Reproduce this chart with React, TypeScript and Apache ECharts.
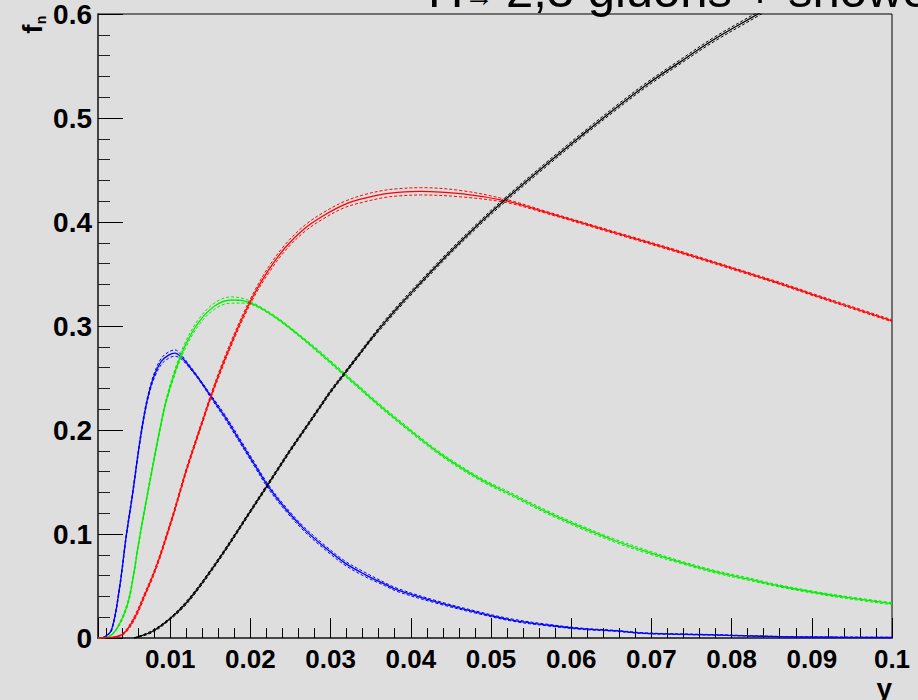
import React, { useEffect, useRef } from "react";
import * as echarts from "echarts";

// ---- data ----
const titleParts = ["H", "→", "2,3 gluons + shower"];
const yAxisTitle = "f";
const yAxisTitleSub = "n";
const xAxisTitle = "y";

const blueX = [0.001, 0.0018, 0.0027, 0.0037, 0.0045, 0.0053, 0.0062, 0.0069, 0.0075, 0.0081, 0.0089, 0.0098, 0.0106, 0.0114, 0.0122, 0.0135, 0.0151, 0.0168, 0.0185, 0.0205, 0.0222, 0.0243, 0.0268, 0.0293, 0.0318, 0.0343, 0.0367, 0.0384, 0.0435, 0.0486, 0.0528, 0.057, 0.0611, 0.0653, 0.0694, 0.0777, 0.086, 0.093, 0.1];
const blueY = [0, 0.001, 0.008, 0.049, 0.097, 0.138, 0.188, 0.22, 0.24, 0.254, 0.266, 0.272, 0.274, 0.27, 0.263, 0.25, 0.232, 0.213, 0.192, 0.167, 0.146, 0.125, 0.104, 0.087, 0.072, 0.061, 0.052, 0.046, 0.034, 0.024, 0.017, 0.0125, 0.009, 0.007, 0.0045, 0.003, 0.0013, 0.0008, 0.0005];
const blueErr = [0, 0, 0.001, 0.002, 0.002, 0.002, 0.002, 0.002, 0.002, 0.0025, 0.003, 0.003, 0.003, 0.002, 0.0015, 0.001, 0.0015, 0.002, 0.002, 0.002, 0.002, 0.002, 0.002, 0.002, 0.002, 0.002, 0.0015, 0.0015, 0.0012, 0.001, 0.001, 0.0008, 0.0006, 0.0005, 0.0004, 0.0003, 0.0002, 0.0002, 0.0002];

const greenX = [0.001, 0.00225, 0.0035, 0.0047, 0.0054, 0.006, 0.0068, 0.0077, 0.0087, 0.0095, 0.0106, 0.0118, 0.0135, 0.0155, 0.0176, 0.0193, 0.0209, 0.0234, 0.0259, 0.0284, 0.0309, 0.0334, 0.0359, 0.0384, 0.0435, 0.0486, 0.0528, 0.057, 0.0611, 0.0653, 0.0694, 0.0736, 0.0778, 0.0819, 0.086, 0.0902, 0.0943, 0.1];
const greenY = [0, 0.001, 0.011, 0.033, 0.059, 0.088, 0.123, 0.16, 0.2, 0.228, 0.256, 0.28, 0.303, 0.319, 0.325, 0.324, 0.319, 0.307, 0.292, 0.276, 0.259, 0.242, 0.225, 0.209, 0.178, 0.153, 0.137, 0.121, 0.107, 0.094, 0.083, 0.073, 0.064, 0.057, 0.05, 0.044, 0.039, 0.033];
const greenErr = [0, 0, 0.001, 0.002, 0.002, 0.002, 0.002, 0.002, 0.002, 0.002, 0.0025, 0.003, 0.003, 0.003, 0.003, 0.002, 0.001, 0.001, 0.001, 0.0015, 0.0015, 0.0015, 0.0015, 0.0015, 0.0015, 0.0015, 0.0015, 0.0015, 0.0015, 0.0015, 0.0015, 0.0012, 0.0012, 0.0012, 0.001, 0.001, 0.001, 0.001];

const redX = [0.001, 0.0031, 0.0043, 0.0056, 0.0068, 0.0079, 0.0087, 0.0095, 0.0104, 0.0112, 0.012, 0.0131, 0.0141, 0.0151, 0.0164, 0.0176, 0.0189, 0.0205, 0.0222, 0.0243, 0.0268, 0.0293, 0.0318, 0.0343, 0.0367, 0.0384, 0.0412, 0.0465, 0.052, 0.057, 0.0653, 0.0736, 0.0819, 0.086, 0.0902, 0.1];
const redY = [0, 0.001, 0.005, 0.02, 0.041, 0.061, 0.078, 0.097, 0.119, 0.14, 0.161, 0.187, 0.21, 0.233, 0.26, 0.283, 0.306, 0.331, 0.353, 0.375, 0.394, 0.407, 0.417, 0.423, 0.427, 0.4285, 0.4295, 0.427, 0.42, 0.409, 0.39, 0.371, 0.351, 0.341, 0.33, 0.305];
const redErr = [0, 0, 0.001, 0.002, 0.002, 0.002, 0.002, 0.002, 0.002, 0.002, 0.002, 0.002, 0.002, 0.002, 0.0025, 0.0025, 0.0025, 0.0025, 0.003, 0.003, 0.003, 0.003, 0.003, 0.0035, 0.0035, 0.0035, 0.0035, 0.003, 0.0015, 0.001, 0.001, 0.001, 0.001, 0.001, 0.001, 0.001];

const blackX = [0.0055, 0.0077, 0.0099, 0.0118, 0.0135, 0.0151, 0.0168, 0.0185, 0.0201, 0.0218, 0.0234, 0.0251, 0.0268, 0.0284, 0.0301, 0.0318, 0.0334, 0.0351, 0.0367, 0.0384, 0.0403, 0.0445, 0.0486, 0.052, 0.057, 0.0611, 0.0653, 0.0694, 0.0736, 0.0777, 0.0835, 0.0845];
const blackY = [0, 0.006, 0.018, 0.032, 0.048, 0.065, 0.084, 0.104, 0.123, 0.143, 0.162, 0.182, 0.201, 0.219, 0.238, 0.255, 0.271, 0.288, 0.303, 0.318, 0.334, 0.368, 0.399, 0.423, 0.456, 0.482, 0.508, 0.532, 0.554, 0.575, 0.601, 0.606];
const blackErr = [0, 0.001, 0.001, 0.0015, 0.0015, 0.0015, 0.0015, 0.0015, 0.0015, 0.0015, 0.0015, 0.0015, 0.0015, 0.0015, 0.0015, 0.0015, 0.0015, 0.0015, 0.002, 0.002, 0.002, 0.002, 0.002, 0.002, 0.002, 0.002, 0.002, 0.002, 0.002, 0.002, 0.002, 0.002];

const xMin = 0.001;
const xMax = 0.1;
const yMin = 0;
const yMax = 0.6;
const yStep = 0.1;

// ---- styles ----
const BG = "#dedede";
const FONT = '"Liberation Sans", Arial, Helvetica, sans-serif';

function curveSeries(name: string, xs: number[], ys: number[], errs: number[], color: string) {
  const main = xs.map((x, i) => [x, ys[i]]);
  const up = xs.map((x, i) => [x, ys[i] + errs[i]]);
  const lo = xs.map((x, i) => [x, Math.max(0, ys[i] - errs[i])]);
  const base = {
    type: "line",
    showSymbol: false,
    symbol: "none",
    smooth: 0.35,
    clip: true,
    silent: true,
  };
  return [
    { ...base, name: name + "-up", data: up, lineStyle: { color, width: 1, type: [3, 2] } },
    { ...base, name: name + "-lo", data: lo, lineStyle: { color, width: 1, type: [3, 2] } },
    { ...base, name, data: main, lineStyle: { color, width: 1.3 } },
  ];
}

export default function App() {
  const ref = useRef<HTMLDivElement>(null);

  useEffect(() => {
    if (!ref.current) return;
    const chart = echarts.init(ref.current, null, { renderer: "svg" });
    const option: any = {
      animation: false,
      backgroundColor: BG,
      grid: {
        left: 98,
        right: 26,
        top: 14,
        bottom: 62,
        show: true,
        borderColor: "#000",
        borderWidth: 1,
        backgroundColor: "transparent",
      },
      xAxis: {
        type: "value",
        min: xMin,
        max: xMax,
        splitNumber: 10,
        axisLine: { show: true, onZero: false, lineStyle: { color: "#444", width: 2 } },
        axisTick: { show: true, inside: true, length: 20, lineStyle: { color: "#000", width: 1 } },
        minorTick: { show: true, splitNumber: 5, length: 10, lineStyle: { color: "#000", width: 1 } },
        splitLine: { show: false },
        axisLabel: {
          showMinLabel: false,
          interval: 0,
          margin: 8,
          color: "#000",
          fontFamily: FONT,
          fontWeight: "bold",
          fontSize: 26,
        },
      },
      yAxis: {
        type: "value",
        min: yMin,
        max: yMax,
        interval: yStep,
        axisLine: { show: true, onZero: false, lineStyle: { color: "#444", width: 2 } },
        axisTick: { show: true, inside: true, length: 25, lineStyle: { color: "#000", width: 1 } },
        minorTick: { show: true, splitNumber: 5, length: 12, lineStyle: { color: "#222", width: 1 } },
        splitLine: { show: false },
        axisLabel: {
          margin: 6,
          color: "#000",
          fontFamily: FONT,
          fontWeight: "bold",
          fontSize: 28,
          padding: [8, 0, 0, 0],
        },
      },
      graphic: [
        { type: "text", x: 428, y: -10, style: { text: titleParts[0], fontFamily: FONT, fontSize: 49, fill: "#000", align: "left", verticalAlign: "middle" } },
        { type: "text", x: 464, y: -5, style: { text: titleParts[1], fontFamily: FONT, fontSize: 30, fill: "#000", align: "left", verticalAlign: "middle" } },
        { type: "text", x: 506, y: -10, style: { text: titleParts[2], fontFamily: FONT, fontSize: 49, fill: "#000", align: "left", verticalAlign: "middle" } },
        { type: "text", x: 32, y: 29, rotation: Math.PI / 2, style: { text: yAxisTitle, fontFamily: FONT, fontWeight: "bold", fontSize: 28, fill: "#000", align: "center", verticalAlign: "middle" } },
        { type: "text", x: 41, y: 20, rotation: Math.PI / 2, style: { text: yAxisTitleSub, fontFamily: FONT, fontWeight: "bold", fontSize: 14, fill: "#000", align: "center", verticalAlign: "middle" } },
        { type: "text", x: 892, y: 688, style: { text: xAxisTitle, fontFamily: FONT, fontWeight: "bold", fontSize: 28, fill: "#000", align: "right", verticalAlign: "middle" } },
      ],
      series: [
        ...curveSeries("blue", blueX, blueY, blueErr, "#0000ff"),
        ...curveSeries("green", greenX, greenY, greenErr, "#00ee00"),
        ...curveSeries("red", redX, redY, redErr, "#ff0000"),
        ...curveSeries("black", blackX, blackY, blackErr, "#000000"),
      ],
    };
    chart.setOption(option);
    return () => chart.dispose();
  }, []);

  return (
    <div
      ref={ref}
      style={{ position: "fixed", left: 0, top: 0, width: 918, height: 700, background: BG }}
    />
  );
}
